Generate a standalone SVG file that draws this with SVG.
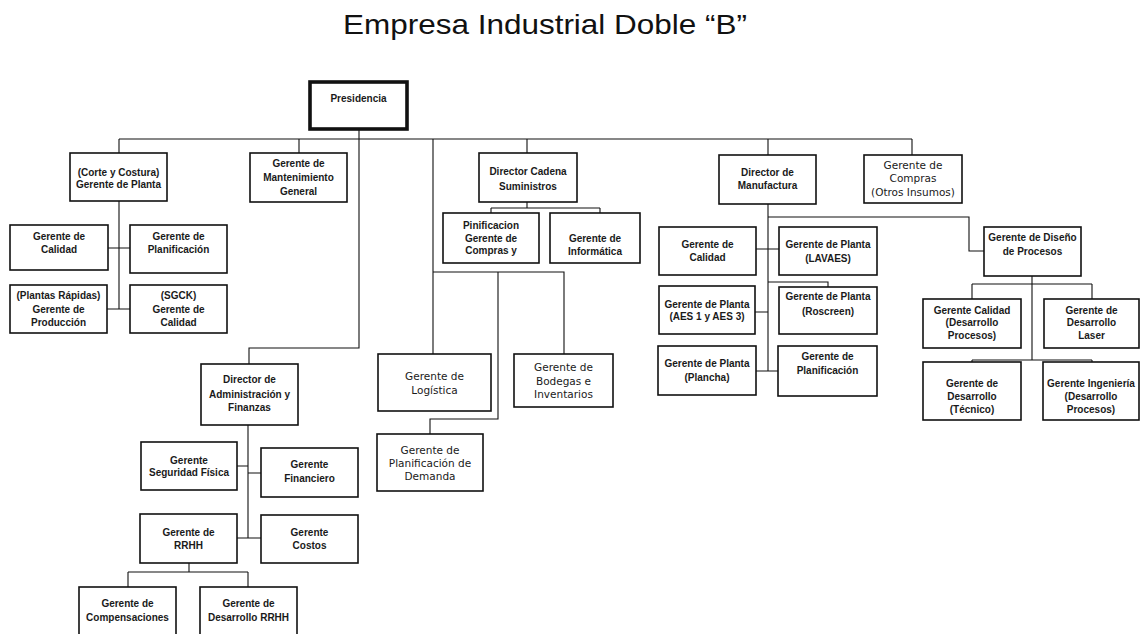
<svg xmlns="http://www.w3.org/2000/svg" width="1140" height="634" viewBox="0 0 1140 634">
  <style>
    .box { fill: #ffffff; stroke: #111111; stroke-width: 1.6; }
    .top { fill: #ffffff; stroke: #111111; stroke-width: 3.6; }
    .lbl { font-family: "Liberation Sans", Arial, sans-serif; font-size: 10px; font-weight: bold; fill: #1a1a1a; text-anchor: middle; }
    .rnd { font-family: "DejaVu Sans", "Liberation Sans", sans-serif; font-size: 10.5px; fill: #1a1a1a; text-anchor: middle; }
    .title { font-family: "Liberation Sans", Arial, sans-serif; font-size: 28px; fill: #111111; text-anchor: middle; }
    .wire { fill: none; stroke: #111111; stroke-width: 1.1; }
  </style>

  <rect width="1140" height="634" fill="#ffffff"/>

  <text class="title" x="545" y="34" textLength="404" lengthAdjust="spacingAndGlyphs">Empresa Industrial Doble “B”</text>

  <!-- reporting lines -->
  <g id="connectors">
    <path class="wire" d="M359,129 V139 M119,139 H912"/>
    <path class="wire" d="M119,139 V153 M299,139 V153 M527,139 V153 M768,139 V155 M912,139 V155"/>
    <path class="wire" d="M359,139 V348 H249 V364"/>
    <!-- plant: corte y costura -->
    <path class="wire" d="M119,201 V309 M108,248 H130 M107,309 H130"/>
    <!-- supply chain -->
    <path class="wire" d="M433,139 V354 M433,272 H564 V354 M498,272 V419 H430 V434"/>
    <path class="wire" d="M527,202 V208 M491,208 H600 M491,208 V213 M600,208 V213"/>
    <!-- manufacturing -->
    <path class="wire" d="M768,204 V371 M756,249 H779 M755,312 H768 M768,282 H828 V287 M756,371 H778"/>
    <path class="wire" d="M768,217 H969 V251 H984"/>
    <!-- process design -->
    <path class="wire" d="M1032,276 V360 M972,284 H1092 M972,284 V299 M1092,284 V299 M972,360 H1092 M972,360 V362 M1092,360 V362"/>
    <!-- administration -->
    <path class="wire" d="M248,425 V538 M237,466 H248 M248,473 H261 M237,538 H261"/>
    <path class="wire" d="M189,563 V572 M128,572 H248 M128,572 V587 M248,572 V587"/>
  </g>

  <g id="presidencia">
    <rect class="top" x="310" y="82" width="97" height="47"/>
    <text class="lbl" x="358.5" y="101.5">Presidencia</text>
  </g>

  <g id="corte-costura">
    <rect class="box" x="70" y="153" width="97" height="48"/>
    <text class="lbl" x="118.5" y="175.5">(Corte y Costura)</text>
    <text class="lbl" x="118.5" y="187.5">Gerente de Planta</text>
  </g>
  <g id="cc-calidad">
    <rect class="box" x="10" y="225" width="98" height="45"/>
    <text class="lbl" x="59" y="239.5">Gerente de</text>
    <text class="lbl" x="59" y="252.5">Calidad</text>
  </g>
  <g id="cc-planificacion">
    <rect class="box" x="130" y="225" width="97" height="48"/>
    <text class="lbl" x="178.5" y="239.5">Gerente de</text>
    <text class="lbl" x="178.5" y="252.5">Planificación</text>
  </g>
  <g id="cc-produccion">
    <rect class="box" x="10" y="285" width="97" height="48"/>
    <text class="lbl" x="58.5" y="298.5">(Plantas Rápidas)</text>
    <text class="lbl" x="58.5" y="313">Gerente de</text>
    <text class="lbl" x="58.5" y="326">Producción</text>
  </g>
  <g id="cc-sgck">
    <rect class="box" x="130" y="285" width="97" height="48"/>
    <text class="lbl" x="178.5" y="298.5">(SGCK)</text>
    <text class="lbl" x="178.5" y="313">Gerente de</text>
    <text class="lbl" x="178.5" y="326">Calidad</text>
  </g>

  <g id="mantenimiento">
    <rect class="box" x="250" y="153" width="97" height="49"/>
    <text class="lbl" x="298.5" y="166.5">Gerente de</text>
    <text class="lbl" x="298.5" y="181">Mantenimiento</text>
    <text class="lbl" x="298.5" y="195">General</text>
  </g>

  <g id="administracion">
    <rect class="box" x="201" y="364" width="97" height="61"/>
    <text class="lbl" x="249.5" y="383">Director de</text>
    <text class="lbl" x="249.5" y="397.5">Administración y</text>
    <text class="lbl" x="249.5" y="411">Finanzas</text>
  </g>
  <g id="seguridad">
    <rect class="box" x="141" y="442" width="96" height="48"/>
    <text class="lbl" x="189" y="463.5">Gerente</text>
    <text class="lbl" x="189" y="476">Seguridad Física</text>
  </g>
  <g id="financiero">
    <rect class="box" x="261" y="448" width="97" height="49"/>
    <text class="lbl" x="309.5" y="468">Gerente</text>
    <text class="lbl" x="309.5" y="482">Financiero</text>
  </g>
  <g id="rrhh">
    <rect class="box" x="140" y="514" width="97" height="49"/>
    <text class="lbl" x="188.5" y="536">Gerente de</text>
    <text class="lbl" x="188.5" y="548.5">RRHH</text>
  </g>
  <g id="costos">
    <rect class="box" x="261" y="515" width="97" height="48"/>
    <text class="lbl" x="309.5" y="536">Gerente</text>
    <text class="lbl" x="309.5" y="548.5">Costos</text>
  </g>
  <g id="compensaciones">
    <rect class="box" x="79" y="587" width="97" height="55"/>
    <text class="lbl" x="127.5" y="607">Gerente de</text>
    <text class="lbl" x="127.5" y="621">Compensaciones</text>
  </g>
  <g id="desarrollo-rrhh">
    <rect class="box" x="200" y="587" width="97" height="55"/>
    <text class="lbl" x="248.5" y="607">Gerente de</text>
    <text class="lbl" x="248.5" y="621">Desarrollo RRHH</text>
  </g>

  <g id="logistica">
    <rect class="box" x="378" y="354" width="113" height="57"/>
    <text class="rnd" x="434.5" y="380">Gerente de</text>
    <text class="rnd" x="434.5" y="393.5">Logística</text>
  </g>
  <g id="bodegas">
    <rect class="box" x="514" y="354" width="99" height="53"/>
    <text class="rnd" x="563.5" y="371">Gerente de</text>
    <text class="rnd" x="563.5" y="384.5">Bodegas e</text>
    <text class="rnd" x="563.5" y="398">Inventarios</text>
  </g>
  <g id="demanda">
    <rect class="box" x="377" y="434" width="106" height="57"/>
    <text class="rnd" x="430" y="454">Gerente de</text>
    <text class="rnd" x="430" y="466.5">Planificación de</text>
    <text class="rnd" x="430" y="480">Demanda</text>
  </g>

  <g id="cadena-suministros">
    <rect class="box" x="479" y="153" width="98" height="49"/>
    <text class="lbl" x="528" y="175">Director Cadena</text>
    <text class="lbl" x="528" y="189.5">Suministros</text>
  </g>
  <g id="planificacion-compras">
    <rect class="box" x="443" y="213" width="96" height="50"/>
    <text class="lbl" x="491" y="228.5">Pinificacion</text>
    <text class="lbl" x="491" y="241.5">Gerente de</text>
    <text class="lbl" x="491" y="254">Compras y</text>
  </g>
  <g id="informatica">
    <rect class="box" x="550" y="213" width="90" height="50"/>
    <text class="lbl" x="595" y="241.5">Gerente de</text>
    <text class="lbl" x="595" y="255">Informática</text>
  </g>

  <g id="manufactura">
    <rect class="box" x="719" y="155" width="97" height="49"/>
    <text class="lbl" x="767.5" y="176">Director de</text>
    <text class="lbl" x="767.5" y="188.5">Manufactura</text>
  </g>
  <g id="mf-calidad">
    <rect class="box" x="659" y="227" width="97" height="48"/>
    <text class="lbl" x="707.5" y="247.5">Gerente de</text>
    <text class="lbl" x="707.5" y="261">Calidad</text>
  </g>
  <g id="mf-lavaes">
    <rect class="box" x="779" y="227" width="98" height="48"/>
    <text class="lbl" x="828" y="247.5">Gerente de Planta</text>
    <text class="lbl" x="828" y="261.5">(LAVAES)</text>
  </g>
  <g id="mf-aes">
    <rect class="box" x="659" y="286" width="96" height="48"/>
    <text class="lbl" x="707" y="307.5">Gerente de Planta</text>
    <text class="lbl" x="707" y="320">(AES 1 y AES 3)</text>
  </g>
  <g id="mf-roscreen">
    <rect class="box" x="779" y="287" width="98" height="47"/>
    <text class="lbl" x="828" y="300">Gerente de Planta</text>
    <text class="lbl" x="828" y="315">(Roscreen)</text>
  </g>
  <g id="mf-plancha">
    <rect class="box" x="658" y="346" width="98" height="49"/>
    <text class="lbl" x="707" y="367">Gerente de Planta</text>
    <text class="lbl" x="707" y="381">(Plancha)</text>
  </g>
  <g id="mf-planificacion">
    <rect class="box" x="778" y="346" width="99" height="50"/>
    <text class="lbl" x="827.5" y="359.5">Gerente de</text>
    <text class="lbl" x="827.5" y="373.5">Planificación</text>
  </g>

  <g id="compras-insumos">
    <rect class="box" x="864" y="155" width="98" height="48"/>
    <text class="rnd" x="913" y="169">Gerente de</text>
    <text class="rnd" x="913" y="182">Compras</text>
    <text class="rnd" x="913" y="195.5">(Otros Insumos)</text>
  </g>

  <g id="diseno-procesos">
    <rect class="box" x="984" y="227" width="97" height="49"/>
    <text class="lbl" x="1032.5" y="241">Gerente de Diseño</text>
    <text class="lbl" x="1032.5" y="255">de Procesos</text>
  </g>
  <g id="dp-calidad">
    <rect class="box" x="923" y="299" width="98" height="49"/>
    <text class="lbl" x="972" y="313.5">Gerente Calidad</text>
    <text class="lbl" x="972" y="326">(Desarrollo</text>
    <text class="lbl" x="972" y="338.5">Procesos)</text>
  </g>
  <g id="dp-laser">
    <rect class="box" x="1044" y="299" width="95" height="49"/>
    <text class="lbl" x="1091.5" y="313.5">Gerente de</text>
    <text class="lbl" x="1091.5" y="326">Desarrollo</text>
    <text class="lbl" x="1091.5" y="338.5">Laser</text>
  </g>
  <g id="dp-tecnico">
    <rect class="box" x="923" y="362" width="98" height="58"/>
    <text class="lbl" x="972" y="387">Gerente de</text>
    <text class="lbl" x="972" y="400">Desarrollo</text>
    <text class="lbl" x="972" y="413">(Técnico)</text>
  </g>
  <g id="dp-ingenieria">
    <rect class="box" x="1043" y="362" width="96" height="58"/>
    <text class="lbl" x="1091" y="387">Gerente Ingeniería</text>
    <text class="lbl" x="1091" y="400">(Desarrollo</text>
    <text class="lbl" x="1091" y="413">Procesos)</text>
  </g>
</svg>
